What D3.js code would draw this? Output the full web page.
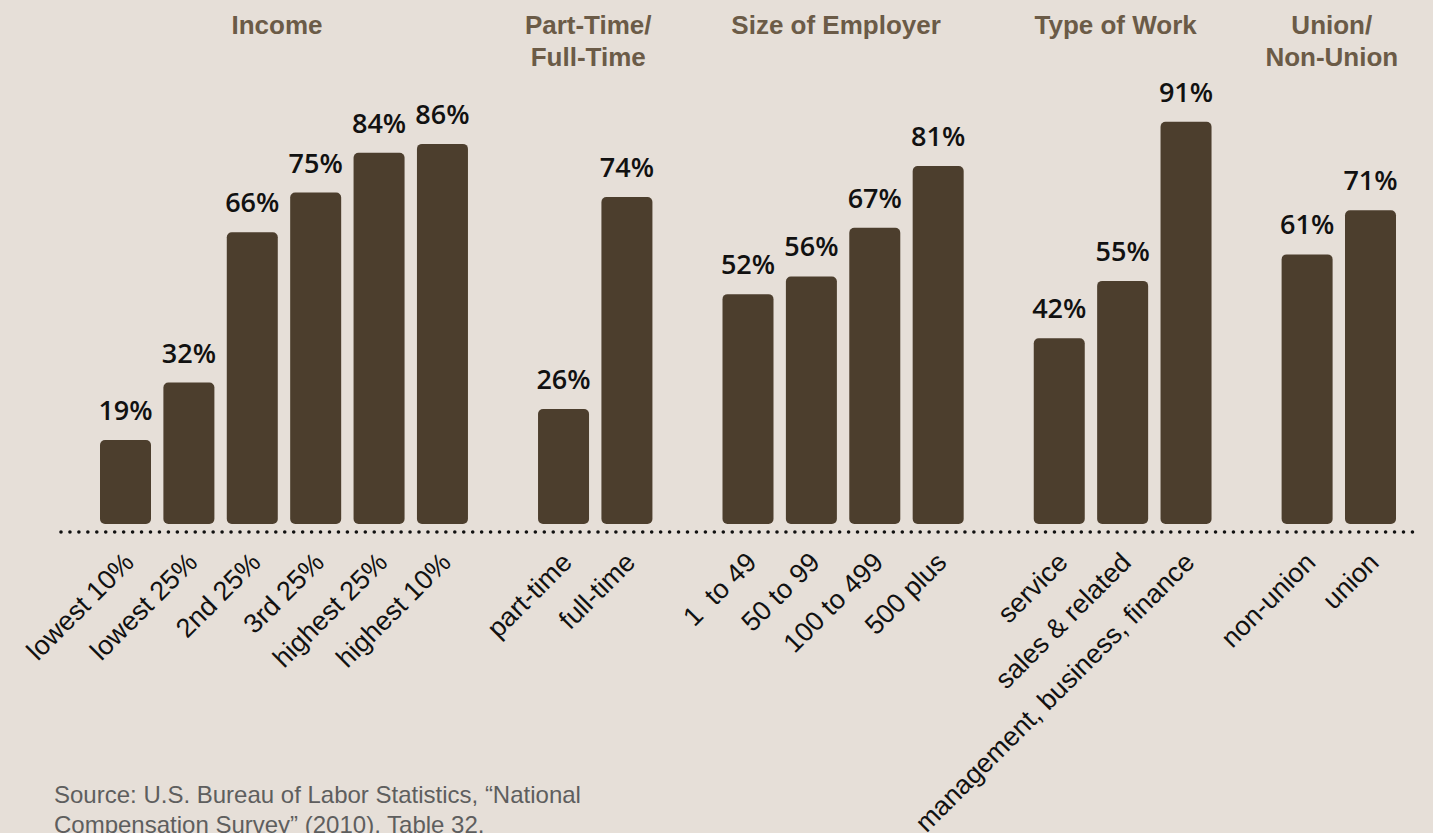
<!DOCTYPE html>
<html>
<head>
<meta charset="utf-8">
<script src="https://cdn.jsdelivr.net/npm/d3@7/dist/d3.min.js"></script>
<style>
  html, body { margin: 0; padding: 0; background: #e6dfd8; }
  svg { display: block; }
</style>
</head>
<body>
<svg id="chart" width="1433" height="833"></svg>
<script>
// ---- data ----
const groupTitles = [["Income"], ["Part-Time/", "Full-Time"], ["Size of Employer"], ["Type of Work"], ["Union/", "Non-Union"]];
const categories = ["lowest 10%", "lowest 25%", "2nd 25%", "3rd 25%", "highest 25%", "highest 10%",
                    "part-time", "full-time",
                    "1  to 49", "50 to 99", "100 to 499", "500 plus",
                    "service", "sales & related", "management, business, finance",
                    "non-union", "union"];
const values = [19, 32, 66, 75, 84, 86, 26, 74, 52, 56, 67, 81, 42, 55, 91, 61, 71];
const groupIndex = [0, 0, 0, 0, 0, 0, 1, 1, 2, 2, 2, 2, 3, 3, 3, 4, 4];
const sourceLines = ["Source: U.S. Bureau of Labor Statistics, \u201CNational", "Compensation Survey\u201D (2010), Table 32."];

// ---- layout ----
const W = 1433, H = 833;
const groupGap = 1.91;
const barW = 51;
const baseY = 524;

const svg = d3.select("#chart");
svg.append("rect").attr("width", W).attr("height", H).attr("fill", "#e6dfd8");

// slot positions (layout only)
const slots = [];
let s = 0;
categories.forEach((c, i) => {
  if (i > 0) s += (groupIndex[i] !== groupIndex[i - 1]) ? groupGap : 1;
  slots.push(s);
});
const x = d3.scaleLinear().domain([0, d3.max(slots)]).range([100, 1345]);
const y = d3.scaleLinear().domain([0, 100]).range([baseY, 82]);

const data = categories.map((c, i) => ({ cat: c, value: values[i], group: groupIndex[i], slot: slots[i] }));

// bars
svg.append("g").selectAll("rect").data(data).join("rect")
  .attr("x", d => x(d.slot))
  .attr("y", d => y(d.value))
  .attr("width", barW)
  .attr("height", d => y(0) - y(d.value))
  .attr("rx", 5).attr("ry", 5)
  .attr("fill", "#4c3e2d");

// value labels
svg.append("g").selectAll("text").data(data).join("text")
  .attr("x", d => x(d.slot) + barW / 2)
  .attr("y", d => y(d.value) - 20)
  .attr("text-anchor", "middle")
  .style("font-family", "'Open Sans', 'Liberation Sans', sans-serif")
  .style("font-weight", 600)
  .style("font-size", "27px")
  .attr("fill", "#111")
  .text(d => d.value + "%");

// dotted baseline
svg.append("line")
  .attr("x1", 61).attr("x2", 1415)
  .attr("y1", 532).attr("y2", 532)
  .attr("stroke", "#111")
  .attr("stroke-width", 3.6)
  .attr("stroke-linecap", "round")
  .attr("stroke-dasharray", "0,8.95");

// category labels
svg.append("g").selectAll("text").data(data).join("text")
  .attr("transform", d => `translate(${x(d.slot) + barW / 2 + 10},564) rotate(-45)`)
  .attr("text-anchor", "end")
  .style("font-family", "'Liberation Sans', Arial, sans-serif")
  .style("font-size", "27px")
  .style("white-space", "pre")
  .attr("fill", "#111")
  .text(d => d.cat);

// group titles
const groups = groupTitles.map((t, g) => {
  const idx = data.filter(d => d.group === g);
  const x0 = x(d3.min(idx, d => d.slot));
  const x1 = x(d3.max(idx, d => d.slot)) + barW;
  return { lines: t, cx: (x0 + x1) / 2 - 7 };
});
const tg = svg.append("g").selectAll("text").data(groups).join("text")
  .attr("x", d => d.cx)
  .attr("y", 34)
  .attr("text-anchor", "middle")
  .style("font-family", "'Liberation Sans', Arial, sans-serif")
  .style("font-weight", "bold")
  .style("font-size", "26px")
  .attr("fill", "#6b5b47");
tg.selectAll("tspan").data(d => d.lines.map(l => ({ l, cx: d.cx }))).join("tspan")
  .attr("x", d => d.cx)
  .attr("dy", (d, i) => i === 0 ? 0 : 32)
  .text(d => d.l);

// source
svg.append("g").selectAll("text").data(sourceLines).join("text")
  .attr("x", 54)
  .attr("y", (d, i) => 803 + i * 30)
  .style("font-family", "'Liberation Sans', Arial, sans-serif")
  .style("font-size", "24px")
  .attr("fill", "#5e5e5e")
  .text(d => d);
</script>
</body>
</html>
